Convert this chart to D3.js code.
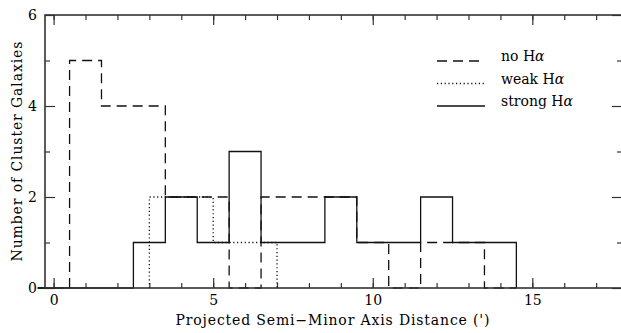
<!DOCTYPE html>
<html>
<head>
<meta charset="utf-8">
<script src="https://cdn.jsdelivr.net/npm/d3@7"></script>
<style>
body { margin: 0; background: #fff; overflow: hidden; }
text { font-family: "DejaVu Serif", serif; fill: #000; }
</style>
</head>
<body>
<div id="chart"></div>
<script>
// bin centres (arcmin), width 1
var binCentres = [0, 1, 2, 3, 4, 5, 6, 7, 8, 9, 10, 11, 12, 13, 14];
var noHa     = [0, 5, 4, 4, 2, 2, 0, 2, 2, 2, 1, 0, 1, 1, 0];
var strongHa = [0, 0, 0, 1, 2, 1, 3, 1, 1, 2, 1, 1, 2, 1, 1];
// weak Ha sample is binned on integer edges
var weakCentres = [3.5, 4.5, 5.5, 6.5];
var weakHa      = [2, 2, 1, 1];

var xMajor = [0, 5, 10, 15];
var xMinor = d3.range(0, 18);
var yMajor = [0, 2, 4, 6];
var yMinor = [1, 3, 5];

var legendLabels = ["no H", "weak H", "strong H"];

var width = 621,
height = 333,
margin = {top: 15, right: -1, bottom: 45, left: 45};

var svg = d3.select("#chart")
.append("svg")
.attr("width", width)
.attr("height", height);

// the plot box runs slightly past the right edge of the picture
var x = d3.scaleLinear().domain([-0.27, 17.81]).range([margin.left, width - margin.right]);
var y = d3.scaleLinear().domain([0, 6]).range([height - margin.bottom, margin.top]);

var x0 = margin.left, x1 = width - margin.right, y0 = height - margin.bottom, y1 = margin.top;

// ticks, all four sides
function tickAxis(axis, tr, vals, len) {
  svg.append("g")
    .attr("transform", tr)
    .call(axis.tickValues(vals).tickSizeInner(len).tickSizeOuter(0).tickFormat(""))
    .call(g => g.select(".domain").remove())
    .selectAll("line").attr("stroke", "#333").attr("stroke-width", 1.2);
}
tickAxis(d3.axisBottom(x), `translate(0,${y0})`, xMinor, -5);
tickAxis(d3.axisBottom(x), `translate(0,${y0})`, xMajor, -10);
tickAxis(d3.axisTop(x), `translate(0,${y1})`, xMinor, -5);
tickAxis(d3.axisTop(x), `translate(0,${y1})`, xMajor, -10);
tickAxis(d3.axisLeft(y), `translate(${x0},0)`, yMinor, -5);
tickAxis(d3.axisLeft(y), `translate(${x0},0)`, yMajor, -10);
tickAxis(d3.axisRight(y), `translate(${x1},0)`, yMinor, -5);
tickAxis(d3.axisRight(y), `translate(${x1},0)`, yMajor, -10);

// tick labels
svg.append("g")
 .attr("transform", `translate(0,${y0})`)
 .call(d3.axisBottom(x).tickValues(xMajor).tickSize(0).tickPadding(7).tickFormat(d3.format("d")))
 .call(g => g.select(".domain").remove())
 .selectAll("text").attr("font-size", 14).attr("font-family", "DejaVu Sans");
svg.append("g")
 .attr("transform", `translate(${x0},0)`)
 .call(d3.axisLeft(y).tickValues(yMajor).tickSize(0).tickPadding(8).tickFormat(d3.format("d")))
 .call(g => g.select(".domain").remove())
 .selectAll("text").attr("font-size", 14).attr("font-family", "DejaVu Sans");

// histograms
function histPoints(centres, counts, w) {
  var pts = [[centres[0] - w / 2, 0]];
  centres.forEach((c, i) => pts.push([c - w / 2, counts[i]]));
  pts.push([centres[centres.length - 1] + w / 2, 0]);
  return pts;
}
var step = d3.line().x(d => x(d[0])).y(d => y(d[1])).curve(d3.curveStepAfter);

var series = [
  {pts: histPoints(binCentres, noHa, 1), dash: "10,6", w: 1.3},
  {pts: histPoints(weakCentres, weakHa, 1), dash: "1.2,2.6", w: 1.3},
  {pts: histPoints(binCentres, strongHa, 1), dash: null, w: 1.3}
];
series.forEach(s => {
  svg.append("path")
    .attr("d", step(s.pts))
    .attr("fill", "none")
    .attr("stroke", "#111")
    .attr("stroke-width", s.w)
    .attr("stroke-dasharray", s.dash);
});

// frame
svg.append("rect")
 .attr("x", x0).attr("y", y1)
 .attr("width", x1 - x0).attr("height", y0 - y1)
 .attr("fill", "none").attr("stroke", "#333").attr("stroke-width", 1.6);

// legend
var legend = svg.append("g").attr("transform", "translate(437,61)");
legendLabels.forEach((lab, i) => {
  var g = legend.append("g").attr("transform", `translate(0,${i * 22.5})`);
  g.append("line")
    .attr("x1", 0).attr("x2", 48).attr("y1", 0).attr("y2", 0)
    .attr("stroke", "#111").attr("stroke-width", 1.3)
    .attr("stroke-dasharray", series[i].dash);
  var t = g.append("text").attr("x", 64).attr("y", 0).attr("font-size", 14).text(lab);
  t.append("tspan").attr("font-style", "italic").text("α");
});

// axis titles
svg.append("text")
 .attr("x", (x0 + 620) / 2).attr("y", 325)
 .attr("text-anchor", "middle").attr("font-size", 14)
 .attr("textLength", 314).attr("lengthAdjust", "spacing")
 .text("Projected Semi\u2212Minor Axis Distance (')");

svg.append("text")
 .attr("transform", `translate(22,${(y0 + y1) / 2}) rotate(-90)`)
 .attr("text-anchor", "middle").attr("font-size", 14)
 .attr("textLength", 220).attr("lengthAdjust", "spacing")
 .text("Number of Cluster Galaxies");
</script>
</body>
</html>
